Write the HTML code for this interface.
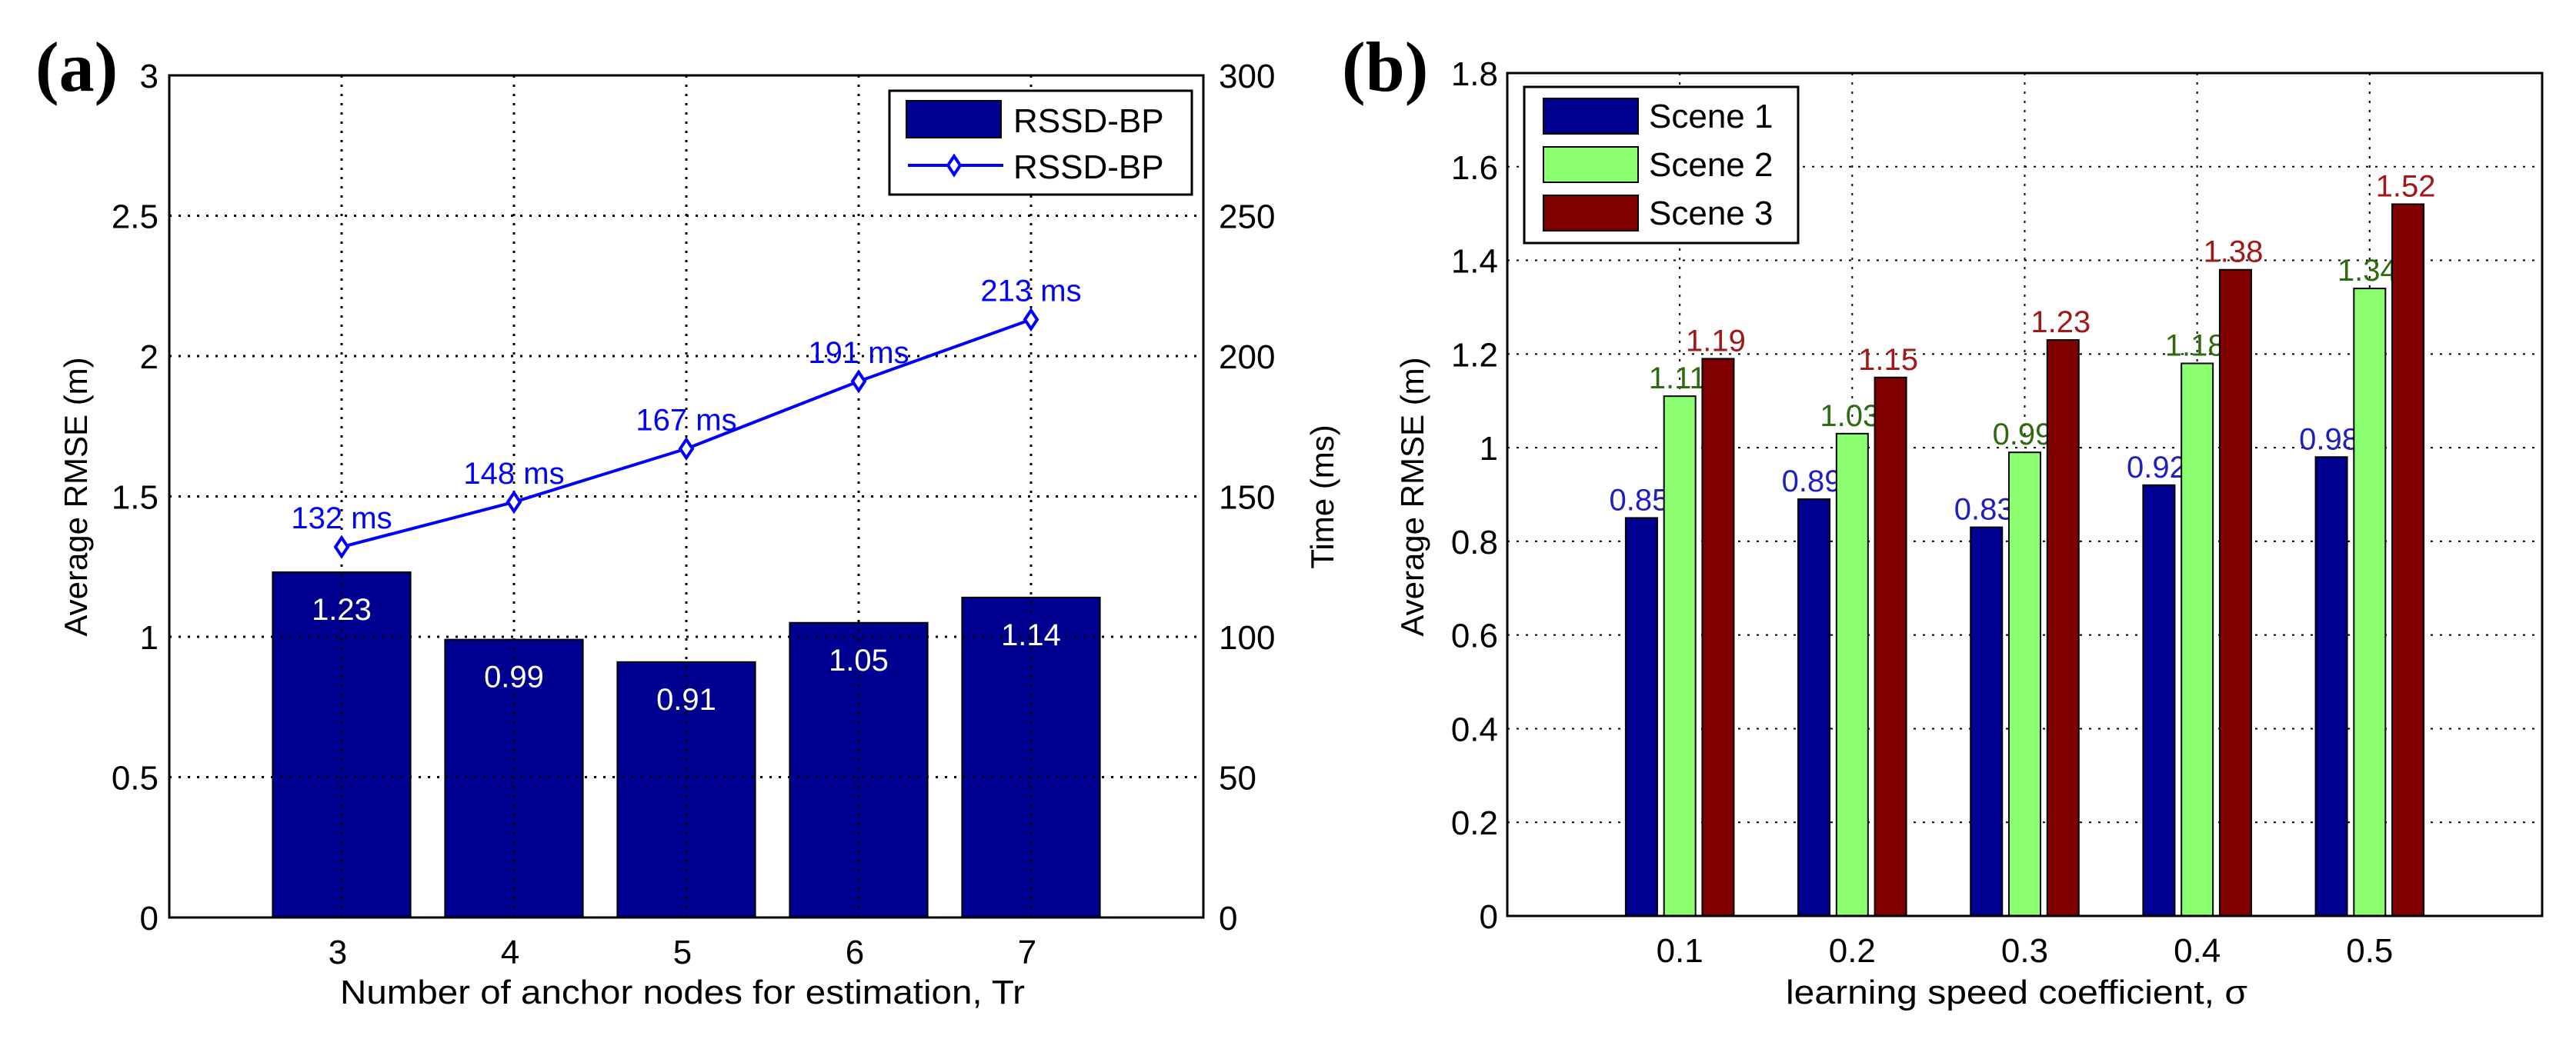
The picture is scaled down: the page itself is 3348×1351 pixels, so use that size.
<!DOCTYPE html>
<html><head><meta charset="utf-8"><style>
html,body{margin:0;padding:0;background:#fff;}
svg{display:block;font-family:"Liberation Sans",Arial,sans-serif;}
</style></head><body>
<svg id="fig" width="3348" height="1351" viewBox="0 0 3348 1351"></svg>
<script>
// ---- Panel (a) data ----
const aCats = [3, 4, 5, 6, 7];
const aRmse = [1.23, 0.99, 0.91, 1.05, 1.14];
const aTime = [132, 148, 167, 191, 213];
const aLeftTicks = [0, 0.5, 1, 1.5, 2, 2.5, 3];
const aLeftTickLabels = ["0", "0.5", "1", "1.5", "2", "2.5", "3"];
const aRightTicks = [0, 50, 100, 150, 200, 250, 300];
// ---- Panel (b) data ----
const bCats = [0.1, 0.2, 0.3, 0.4, 0.5];
const bCatLabels = ["0.1", "0.2", "0.3", "0.4", "0.5"];
const bScene1 = [0.85, 0.89, 0.83, 0.92, 0.98];
const bScene2 = [1.11, 1.03, 0.99, 1.18, 1.34];
const bScene3 = [1.19, 1.15, 1.23, 1.38, 1.52];
const bTicks = [0, 0.2, 0.4, 0.6, 0.8, 1, 1.2, 1.4, 1.6, 1.8];
const bTickLabels = ["0", "0.2", "0.4", "0.6", "0.8", "1", "1.2", "1.4", "1.6", "1.8"];

const NS = "http://www.w3.org/2000/svg";
const svg = document.getElementById("fig");
function mk(tag, attrs, parent, text) {
  const e = document.createElementNS(NS, tag);
  for (const k in attrs) e.setAttribute(k, attrs[k]);
  if (text !== undefined) e.textContent = text;
  (parent || svg).appendChild(e);
  return e;
}

// ================= Panel (a) =================
const A = {l: 220, r: 1564, t: 98, b: 1193};
const ax = v => A.l + (v - 2) / 6 * (A.r - A.l);
const ayL = v => A.b - v / 3 * (A.b - A.t);
const ayR = v => A.b - v / 300 * (A.b - A.t);

const gA = mk("g", {});



// bars
aCats.forEach((c, i) => {
  const w = 0.8 / 6 * (A.r - A.l);
  const r = mk("rect", {x: ax(c) - w / 2, y: ayL(aRmse[i]), width: w, height: A.b - ayL(aRmse[i]), fill: "#000090", stroke: "#000", "stroke-width": 2}, gA);
  
  
});
// grid (drawn above bars)
aLeftTicks.forEach(v => {
  if (v === 0 || v === 3) return;
  const l = mk("line", {x1: A.l, x2: A.r, y1: ayL(v), y2: ayL(v), stroke: "#000", "stroke-width": 3, "stroke-dasharray": "3 9"}, gA);
  
  
});
aCats.forEach(c => {
  const l = mk("line", {x1: ax(c), x2: ax(c), y1: A.t, y2: A.b, stroke: "#000", "stroke-width": 3, "stroke-dasharray": "3 9"}, gA);
  
  
});
// bar value labels
aCats.forEach((c, i) => {
  const t = mk("text", {x: ax(c), y: ayL(aRmse[i]) + 62, "text-anchor": "middle", "font-size": 40, fill: "#fff"}, gA, aRmse[i].toFixed(2));
  
  
});
// line series
const pts = aCats.map((c, i) => ax(c) + "," + ayR(aTime[i])).join(" ");
const pl = mk("polyline", {points: pts, fill: "none", stroke: "#0000ff", "stroke-width": 4}, gA);


aCats.forEach((c, i) => {
  const x = ax(c), y = ayR(aTime[i]);
  const d = mk("polygon", {points: `${x},${y-12} ${x+8},${y} ${x},${y+12} ${x-8},${y}`, fill: "#fff", stroke: "#0000ff", "stroke-width": 4}, gA);
  
  
  const t = mk("text", {x: x, y: y - 24, "text-anchor": "middle", "font-size": 40, fill: "#0000ff"}, gA, aTime[i] + " ms");
  
  
});
// axes box
const boxA = mk("rect", {x: A.l, y: A.t, width: A.r - A.l, height: A.b - A.t, fill: "none", stroke: "#000", "stroke-width": 3}, gA);


// ticks labels
aLeftTicks.forEach((v, i) => {
  const t = mk("text", {x: A.l - 14, y: ayL(v) + 16, "text-anchor": "end", "font-size": 44}, gA, aLeftTickLabels[i]);
  
  
});
aRightTicks.forEach(v => {
  const t = mk("text", {x: A.r + 20, y: ayR(v) + 16, "text-anchor": "start", "font-size": 44}, gA, String(v));
  
  
});
aCats.forEach(c => {
  const t = mk("text", {x: ax(c) - 5, y: A.b + 60, "text-anchor": "middle", "font-size": 44}, gA, String(c));
  
  
});
let t;
t = mk("text", {x: 887, y: 1305, "text-anchor": "middle", "font-size": 44, textLength: 890, lengthAdjust: "spacingAndGlyphs"}, gA, "Number of anchor nodes for estimation, Tr");


t = mk("text", {x: 0, y: 0, "text-anchor": "middle", "font-size": 42, transform: "translate(113,646) rotate(-90)"}, gA, "Average RMSE (m)");


t = mk("text", {x: 0, y: 0, "text-anchor": "middle", "font-size": 42, transform: "translate(1733,646) rotate(-90)"}, gA, "Time (ms)");


t = mk("text", {x: 46, y: 118, "font-size": 92, "font-weight": "bold", "font-family": "Liberation Serif, serif"}, gA, "(a)");


// legend a
const lgA = mk("g", {}, gA);


mk("rect", {x: 1156, y: 118, width: 393, height: 135, fill: "#fff", stroke: "#000", "stroke-width": 3}, lgA);
mk("rect", {x: 1178, y: 131, width: 123, height: 48, fill: "#000090", stroke: "#000", "stroke-width": 2}, lgA);
t = mk("text", {x: 1317, y: 172, "font-size": 44}, lgA, "RSSD-BP");


mk("line", {x1: 1180, x2: 1304, y1: 215, y2: 215, stroke: "#0000ff", "stroke-width": 4}, lgA);
mk("polygon", {points: "1240,203 1248,215 1240,227 1232,215", fill: "#fff", stroke: "#0000ff", "stroke-width": 4}, lgA);
t = mk("text", {x: 1317, y: 232, "font-size": 44}, lgA, "RSSD-BP");



// ================= Panel (b) =================
const B = {l: 1959, r: 3304, t: 95, b: 1191};
const bx = v => B.l + v / 0.6 * (B.r - B.l);
const by = v => B.b - v / 1.8 * (B.b - B.t);
const gB = mk("g", {});



bTicks.forEach(v => {
  if (v === 0 || v === 1.8) return;
  const l = mk("line", {x1: B.l, x2: B.r, y1: by(v), y2: by(v), stroke: "#000", "stroke-width": 2, "stroke-dasharray": "3 9"}, gB);
  
  
});
bCats.forEach(c => {
  const l = mk("line", {x1: bx(c), x2: bx(c), y1: B.t, y2: B.b, stroke: "#000", "stroke-width": 2, "stroke-dasharray": "3 9"}, gB);
  
  
});
const series = [
  {vals: bScene1, fill: "#000090", text: "#2020c0", off: -0.0222, name: "scene-1"},
  {vals: bScene2, fill: "#8cff70", text: "#2e6b10", off: 0, name: "scene-2"},
  {vals: bScene3, fill: "#800000", text: "#a01818", off: 0.0222, name: "scene-3"}
];
const bw = 41;
series.forEach(s => {
  bCats.forEach((c, i) => {
    const cx = bx(c + s.off);
    const r = mk("rect", {x: cx - bw / 2, y: by(s.vals[i]), width: bw, height: B.b - by(s.vals[i]), fill: s.fill, stroke: "#000", "stroke-width": 2}, gB);
    
    
    const tx = mk("text", {x: cx - 3, y: by(s.vals[i]) - 10, "text-anchor": "middle", "font-size": 40, fill: s.text}, gB, s.vals[i].toFixed(2));
    
    
  });
});
const boxB = mk("rect", {x: B.l, y: B.t, width: B.r - B.l, height: B.b - B.t, fill: "none", stroke: "#000", "stroke-width": 3}, gB);


bTicks.forEach((v, i) => {
  const tx = mk("text", {x: B.l - 12, y: by(v) + 16, "text-anchor": "end", "font-size": 44}, gB, bTickLabels[i]);
  
  
});
bCats.forEach((c, i) => {
  const tx = mk("text", {x: bx(c), y: B.b + 60, "text-anchor": "middle", "font-size": 44}, gB, bCatLabels[i]);
  
  
});
t = mk("text", {x: 2621, y: 1305, "text-anchor": "middle", "font-size": 44, textLength: 600, lengthAdjust: "spacingAndGlyphs"}, gB, "learning speed coefficient, σ");


t = mk("text", {x: 0, y: 0, "text-anchor": "middle", "font-size": 42, transform: "translate(1850,646) rotate(-90)"}, gB, "Average RMSE (m)");


t = mk("text", {x: 1744, y: 118, "font-size": 92, "font-weight": "bold", "font-family": "Liberation Serif, serif"}, gB, "(b)");


// legend b
const lgB = mk("g", {}, gB);


mk("rect", {x: 1981, y: 113, width: 356, height: 203, fill: "#fff", stroke: "#000", "stroke-width": 3}, lgB);
["Scene 1", "Scene 2", "Scene 3"].forEach((lab, i) => {
  const y0 = 128 + i * 63;
  mk("rect", {x: 2006, y: y0, width: 123, height: 46, fill: series[i].fill, stroke: "#000", "stroke-width": 2}, lgB);
  const tx = mk("text", {x: 2143, y: y0 + 38, "font-size": 44}, lgB, lab);
  
  
});
</script>
</body></html>
